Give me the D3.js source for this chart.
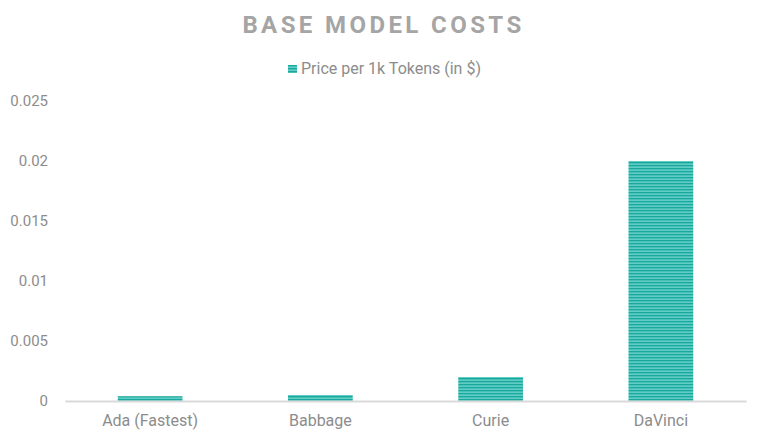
<!DOCTYPE html>
<html>
<head>
<meta charset="utf-8">
<script src="https://cdn.jsdelivr.net/npm/d3@7"></script>
<style>
    body { margin: 0; background: #fff; }
    text { font-family: Roboto, "Noto Sans", sans-serif; }
</style>
</head>
<body>
<svg id="chart" width="765" height="439"></svg>
<script>
// chart data
const models = ["Ada (Fastest)", "Babbage", "Curie", "DaVinci"];
const prices = [0.0004, 0.0005, 0.002, 0.02];
const yTicks = [0, 0.005, 0.01, 0.015, 0.02, 0.025];

const width = 765;
const height = 439;
const margin = { top: 101, right: 19, bottom: 38, left: 65 };

const svg = d3.select("#chart");

// striped fill like the original
const defs = svg.append("defs");
const pattern = defs.append("pattern")
    .attr("id", "stripes")
    .attr("patternUnits", "userSpaceOnUse")
    .attr("width", 6)
    .attr("height", 3);
pattern.append("rect").attr("width", 6).attr("height", 3).attr("fill", "#19a89d");
pattern.append("rect").attr("y", 1.6).attr("width", 6).attr("height", 1).attr("fill", "#8fe4dc");

const xScale = d3.scaleBand()
    .domain(models)
    .range([margin.left, width - margin.right])
    .paddingInner(0.62)
    .paddingOuter(0.31);

const yScale = d3.scaleLinear()
    .domain([0, 0.025])
    .range([height - margin.bottom, margin.top]);

// title
svg.append("text")
    .attr("x", width / 2 + 1)
    .attr("y", 33)
    .attr("text-anchor", "middle")
    .attr("font-size", "24px")
    .attr("font-weight", "bold")
    .attr("letter-spacing", "3.4px")
    .attr("fill", "#a5a5a5")
    .text("BASE MODEL COSTS");

// legend
const legend = svg.append("g").attr("transform", "translate(288, 65)");
legend.append("rect").attr("width", 9).attr("height", 8).attr("fill", "url(#stripes)");
legend.append("text")
    .attr("x", 13)
    .attr("y", 9)
    .attr("font-size", "16px")
    .attr("fill", "#8c8c8c")
    .text("Price per 1k Tokens (in $)");

// y axis labels only
const yAxis = svg.append("g")
    .attr("transform", `translate(${margin.left - 17}, 0)`)
    .call(d3.axisLeft(yScale).tickValues(yTicks).tickSize(0).tickPadding(0)
        .tickFormat(d => d3.format("")(+d.toFixed(3))));
yAxis.select(".domain").remove();
yAxis.selectAll("text")
    .attr("font-size", "15px")
    .attr("fill", "#8c8c8c")
    .attr("font-family", "Roboto, sans-serif");

// bars
svg.append("g")
    .selectAll("rect")
    .data(prices)
    .join("rect")
    .attr("x", (d, i) => xScale(models[i]))
    .attr("y", d => yScale(d))
    .attr("width", xScale.bandwidth())
    .attr("height", d => yScale(0) - yScale(d))
    .attr("fill", "url(#stripes)");

// x axis
const xAxis = svg.append("g")
    .attr("transform", `translate(0, ${yScale(0)})`)
    .call(d3.axisBottom(xScale).tickSize(0).tickPadding(14).tickSizeOuter(0));
xAxis.select(".domain").attr("stroke", "#d9d9d9").attr("stroke-width", 2);
xAxis.selectAll("text")
    .attr("font-size", "16px")
    .attr("fill", "#8c8c8c")
    .attr("font-family", "Roboto, sans-serif");
</script>
</body>
</html>
